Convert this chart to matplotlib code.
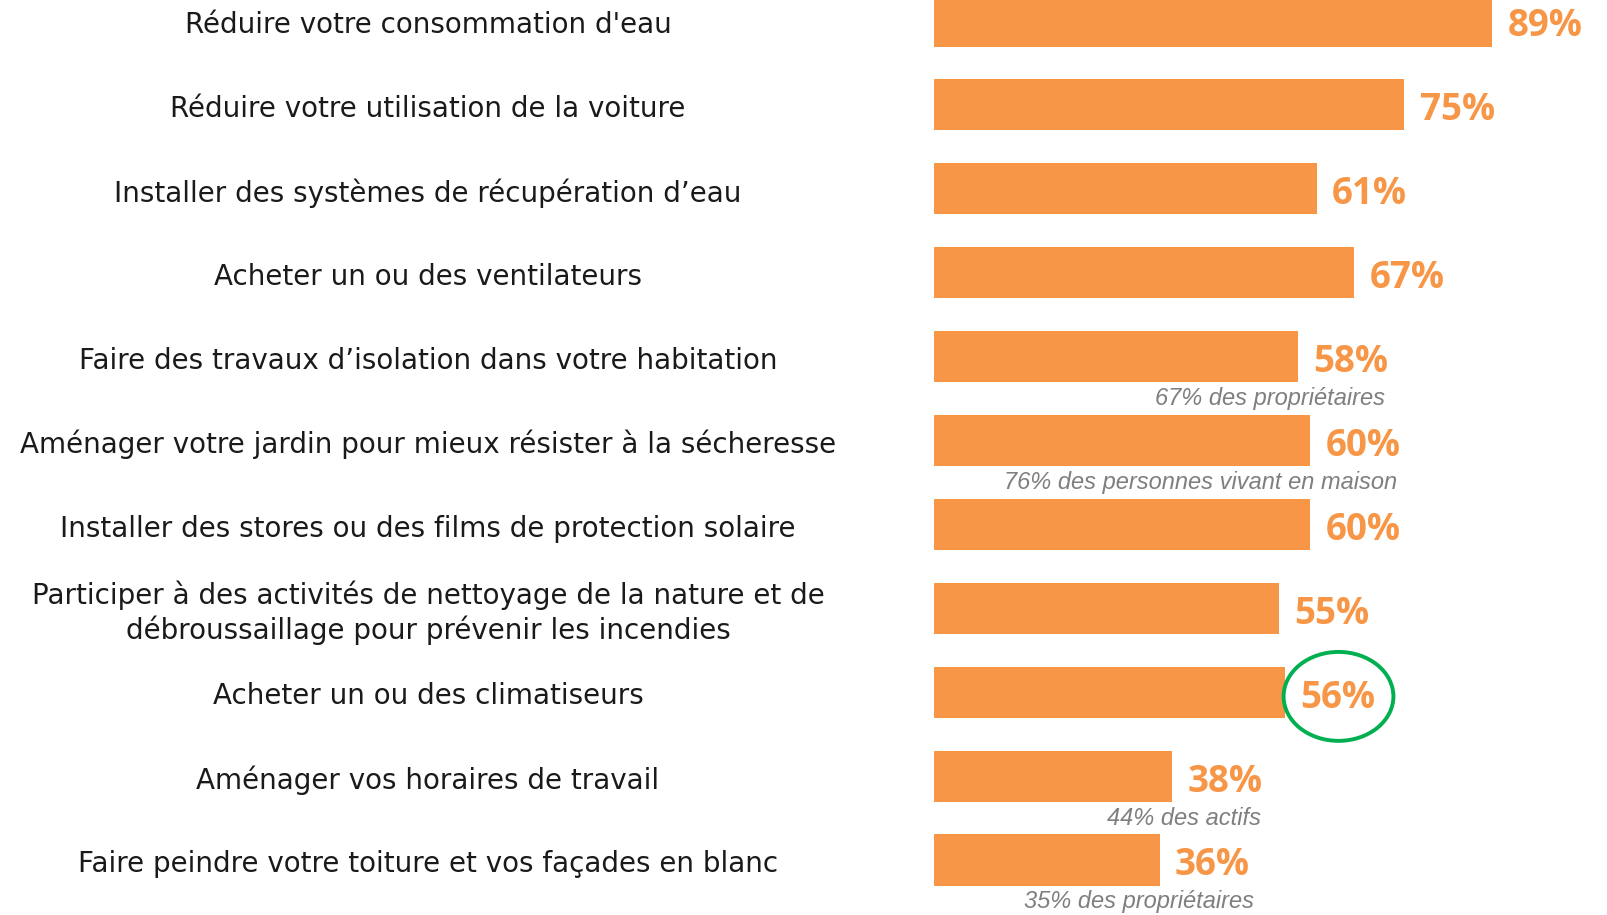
import matplotlib
matplotlib.use("Agg")
import matplotlib.pyplot as plt
from matplotlib.patches import Ellipse
import matplotlib.transforms as mtransforms

categories = [
    "Réduire votre consommation d'eau",
    "Réduire votre utilisation de la voiture",
    "Installer des systèmes de récupération d’eau",
    "Acheter un ou des ventilateurs",
    "Faire des travaux d’isolation dans votre habitation",
    "Aménager votre jardin pour mieux résister à la sécheresse",
    "Installer des stores ou des films de protection solaire",
    "Participer à des activités de nettoyage de la nature et de\ndébroussaillage pour prévenir les incendies",
    "Acheter un ou des climatiseurs",
    "Aménager vos horaires de travail",
    "Faire peindre votre toiture et vos façades en blanc",
]
values = [89, 75, 61, 67, 58, 60, 60, 55, 56, 38, 36]

# sub-notes under some bars: (row, text, x centre in %)
note_rows = [4, 5, 9, 10]
note_texts = ["67% des propriétaires", "76% des personnes vivant en maison",
              "44% des actifs", "35% des propriétaires"]
note_x = [53.6, 42.6, 39.9, 32.7]

highlight_row = 8

ORANGE = "#F79646"
GREEN = "#00B050"
GREY = "#7F7F7F"

W, H = 1607, 915
fig = plt.figure(figsize=(W / 100, H / 100), dpi=100)

px_per_pct = 6.276
left_px = 933.7
row_px = 83.9
first_px = 21.0

ax = fig.add_axes([left_px / W, 0, 100 * px_per_pct / W, 1])
ax.set_xlim(0, 100)
ax.set_ylim((H - first_px) / row_px, -first_px / row_px)
ax.axis("off")

rows = list(range(len(categories)))
ax.barh(rows, values, height=0.608, color=ORANGE, edgecolor="none")

# category labels on the left (x in figure coords, y in data)
trans = mtransforms.blended_transform_factory(fig.transFigure, ax.transData)
for r, lab in zip(rows, categories):
    ax.text(428 / W, r + 0.05, lab, transform=trans, ha="center", va="center",
            fontsize=20, family=["DejaVu Sans"], color="#1a1a1a",
            linespacing=1.25, clip_on=False)

# value labels
for r, v in zip(rows, values):
    ax.annotate(f"{v}%", xy=(v, r + 0.065), xytext=(11, 0), textcoords="offset points",
                ha="left", va="center", fontsize=26.5, fontweight="bold",
                family=["Open Sans", "DejaVu Sans"],
                color=ORANGE, annotation_clip=False)

# grey notes
for r, t, x in zip(note_rows, note_texts, note_x):
    ax.text(x, r + 0.50, t, ha="center", va="center", fontsize=17,
            style="italic", family=["Liberation Sans", "DejaVu Sans"],
            color=GREY, clip_on=False)

# green circle around the highlighted value
ell = Ellipse((64.5, highlight_row + 0.05), width=17.5, height=1.06,
              fill=False, edgecolor=GREEN, linewidth=2.8, clip_on=False)
ax.add_patch(ell)

fig.savefig("out.png", dpi=100)
